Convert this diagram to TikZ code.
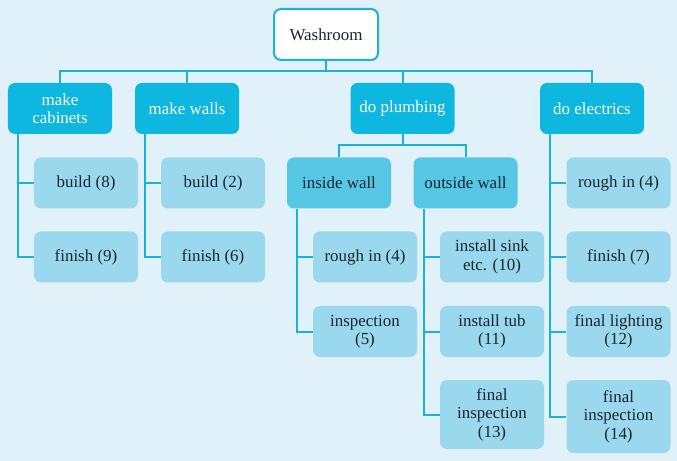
\documentclass[tikz,border=0pt]{standalone}
\usepackage{fontspec}
\setmainfont{LiberationSerif}[Extension=.ttf, UprightFont=*-Regular, BoldFont=*-Bold]
\definecolor{bg}{HTML}{E1F1F9}
\definecolor{mainc}{HTML}{0DB7DF}
\definecolor{midc}{HTML}{56C8E6}
\definecolor{leafc}{HTML}{9AD8EE}
\definecolor{linec}{HTML}{1AB1DA}
\definecolor{txt}{HTML}{1A2530}
\begin{document}
\begin{tikzpicture}[x=1bp,y=-1bp,
  box/.style={rounded corners=7bp, minimum width=104bp, minimum height=51bp, align=center, inner sep=0pt, font=\rmfamily\fontsize{17}{18.5}\selectfont},
  topbox/.style={box, draw=linec, line width=2bp, fill=white, text=txt, minimum width=104bp, minimum height=51bp},
  mainbox/.style={box, fill=mainc, text=white},
  midbox/.style={box, fill=midc, text=txt},
  leafbox/.style={box, fill=leafc, text=txt},
  conn/.style={draw=linec, line width=2bp}]
\fill[bg] (0,0) rectangle (677,461);
\useasboundingbox (0,0) rectangle (677,461);
% top
\node[topbox] (wash) at (326,34.5) {Washroom};
% main
\node[mainbox] (cab) at (60,108.5) {make\\cabinets};
\node[mainbox] (walls) at (187,108.5) {make walls};
\node[mainbox] (plumb) at (402.5,108.5) {do plumbing};
\node[mainbox] (elec) at (592,108.5) {do electrics};
% mid
\node[midbox] (inw) at (339,183) {inside wall};
\node[midbox] (outw) at (465.5,183) {outside wall};
% leaves
\node[leafbox] (b8) at (86,183) {build (8)};
\node[leafbox] (f9) at (86,257) {finish (9)};
\node[leafbox] (b2) at (213,183) {build (2)};
\node[leafbox] (f6) at (213,257) {finish (6)};
\node[leafbox] (r4a) at (365,257) {rough in (4)};
\node[leafbox] (i5) at (365,331.5) {inspection\\(5)};
\node[leafbox] (s10) at (492,257) {install sink\\etc. (10)};
\node[leafbox] (t11) at (492,331.5) {install tub\\(11)};
\node[leafbox, minimum height=69bp] (fi13) at (492,414.5) {final\\inspection\\(13)};
\node[leafbox] (r4b) at (618.5,183) {rough in (4)};
\node[leafbox] (f7) at (618.5,257) {finish (7)};
\node[leafbox] (l12) at (618.5,331.5) {final lighting\\(12)};
\node[leafbox, minimum height=73bp] (fi14) at (618.5,416.5) {final\\inspection\\(14)};
% bus
\coordinate (bus) at (326,71);
\draw[conn] (wash.south) -- (bus);
\draw[conn] (cab.north) |- (bus) -| (elec.north);
\draw[conn] (walls.north) -- (walls.north |- bus);
\draw[conn] (plumb.north) -- (plumb.north |- bus);
% plumbing bus
\coordinate (pbus) at (402.5,145);
\draw[conn] (plumb.south) -- (pbus);
\draw[conn] (inw.north) |- (pbus) -| (outw.north);
% side trunks
\draw[conn] ([xshift=10bp]cab.south west) |- (f9.west);
\draw[conn] ([xshift=10bp]cab.south west |- b8.west) -- (b8.west);
\draw[conn] ([xshift=10bp]walls.south west) |- (f6.west);
\draw[conn] ([xshift=10bp]walls.south west |- b2.west) -- (b2.west);
\draw[conn] ([xshift=10bp]inw.south west) |- (i5.west);
\draw[conn] ([xshift=10bp]inw.south west |- r4a.west) -- (r4a.west);
\draw[conn] ([xshift=11bp]outw.south west) |- (fi13.west);
\draw[conn] ([xshift=11bp]outw.south west |- s10.west) -- (s10.west);
\draw[conn] ([xshift=11bp]outw.south west |- t11.west) -- (t11.west);
\draw[conn] ([xshift=10bp]elec.south west) |- (fi14.west);
\draw[conn] ([xshift=10bp]elec.south west |- r4b.west) -- (r4b.west);
\draw[conn] ([xshift=10bp]elec.south west |- f7.west) -- (f7.west);
\draw[conn] ([xshift=10bp]elec.south west |- l12.west) -- (l12.west);
\end{tikzpicture}
\end{document}
